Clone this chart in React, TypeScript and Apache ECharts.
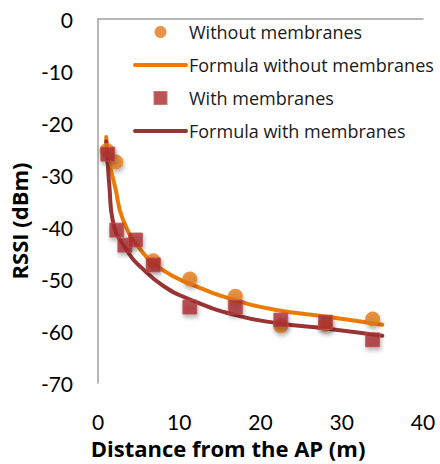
import React, { useEffect, useRef } from "react";
import * as echarts from "echarts";

const withoutX = [1.1, 2.2, 6.8, 11.3, 16.9, 22.5, 28.0, 33.8];
const withoutY = [-25.3, -27.5, -46.5, -50.0, -53.3, -59.0, -58.7, -57.7];

const withX = [1.2, 2.3, 3.3, 4.6, 6.8, 11.3, 16.9, 22.5, 28.0, 33.8];
const withY = [-26.0, -40.6, -43.5, -42.5, -47.3, -55.4, -55.4, -57.9, -58.3, -61.7];

const formulaWithoutX = [1.0, 1.3, 2.1, 3.1, 5.4, 8.0, 11.1, 16.8, 22.1, 28.0, 35.0];
const formulaWithoutY = [-22.7, -27.0, -32.3, -38.7, -44.7, -48.3, -50.8, -54.0, -56.0, -57.2, -58.8];

const formulaWithX = [1.0, 1.2, 1.4, 1.8, 3.75, 5.4, 8.0, 11.1, 16.8, 22.1, 28.0, 35.0];
const formulaWithY = [-23.5, -28.0, -32.3, -38.7, -45.0, -47.9, -51.3, -53.8, -56.9, -58.5, -59.5, -60.9];

const xTicks = { min: 0, max: 40, interval: 10 };
const yTicks = { min: -70, max: 0, interval: 10 };

const names = [
  "Without membranes",
  "Formula without membranes",
  "With membranes",
  "Formula with membranes",
];

const zip = (xs: number[], ys: number[]) => xs.map((x, i) => [x, ys[i]]);

const TICK_FONT = "Lato";
const TEXT_FONT = "Open Sans";
const ORANGE_LINE = "#ee7a06";
const RED_LINE = "#9a3434";
const ORANGE_DOT = "#e3791c";
const RED_SQ = "#a8292f";

const lineIcon = "path://M2,0 L53,0 A2,2 0 0 1 53,4 L2,4 A2,2 0 0 1 2,0 Z";
const squareIcon = "path://M0,0 L10,0 L10,10 L0,10 Z";

export default function App() {
  const ref = useRef<HTMLDivElement>(null);
  useEffect(() => {
    const chart = echarts.init(ref.current!, null, { renderer: "svg" });
    const shadow = {
      shadowBlur: 4,
      shadowColor: "rgba(0,0,0,0.35)",
      shadowOffsetX: 1,
      shadowOffsetY: 3,
    };
    chart.setOption({
      animation: false,
      backgroundColor: "#ffffff",
      textStyle: { fontFamily: TEXT_FONT },
      grid: { left: 96, right: 17, top: 19, bottom: 81, containLabel: false },
      legend: {
        orient: "vertical",
        left: 128,
        top: 16,
        itemWidth: 55,
        itemHeight: 12,
        itemGap: 11,
        symbolKeepAspect: true,
        data: [
          { name: names[0], icon: "circle", itemStyle: { color: ORANGE_DOT, shadowBlur: 0, shadowOffsetX: 0, shadowOffsetY: 0 } },
          { name: names[1], icon: lineIcon, itemStyle: { color: ORANGE_LINE } },
          { name: names[2], icon: squareIcon, itemStyle: { color: RED_SQ, shadowBlur: 0, shadowOffsetX: 0, shadowOffsetY: 0 } },
          { name: names[3], icon: lineIcon, itemStyle: { color: RED_LINE } },
        ],
        textStyle: { fontFamily: TEXT_FONT, fontSize: 18, color: "#1a1a1a", lineHeight: 22, padding: [0, 0, 0, -4] },
      },
      xAxis: {
        type: "value",
        min: xTicks.min,
        max: xTicks.max,
        interval: xTicks.interval,
        name: "Distance from the AP (m)",
        nameLocation: "middle",
        nameGap: 41,
        nameTextStyle: {
          fontFamily: TEXT_FONT,
          fontSize: 22,
          fontWeight: "bold",
          color: "#000",
          padding: [0, 65, 0, 0],
        },
        axisLine: { show: true, lineStyle: { color: "#a0a0a0", width: 1.5 } },
        axisTick: { show: false },
        splitLine: { show: false },
        axisLabel: { fontFamily: TICK_FONT, fontSize: 21, color: "#000", margin: 28 },
      },
      yAxis: {
        type: "value",
        min: yTicks.min,
        max: yTicks.max,
        interval: yTicks.interval,
        name: "RSSI (dBm)",
        nameLocation: "middle",
        nameGap: 49,
        nameTextStyle: {
          fontFamily: TEXT_FONT,
          fontSize: 22,
          fontWeight: "bold",
          color: "#000",
          padding: [0, 40, 0, 0],
        },
        axisLine: { show: true, lineStyle: { color: "#a0a0a0", width: 1.5 } },
        axisTick: { show: false },
        splitLine: { show: false },
        axisLabel: { fontFamily: TICK_FONT, fontSize: 21, color: "#000", margin: 25 },
      },
      series: [
        {
          name: names[1],
          type: "line",
          smooth: true,
          symbol: "none",
          data: zip(formulaWithoutX, formulaWithoutY),
          lineStyle: { color: ORANGE_LINE, width: 4, cap: "round" },
          itemStyle: { color: ORANGE_LINE },
          z: 2,
        },
        {
          name: names[3],
          type: "line",
          smooth: true,
          symbol: "none",
          data: zip(formulaWithX, formulaWithY),
          lineStyle: { color: RED_LINE, width: 4, cap: "round" },
          itemStyle: { color: RED_LINE },
          z: 2,
        },
        {
          name: names[0],
          type: "scatter",
          symbol: "circle",
          symbolSize: 15,
          data: zip(withoutX, withoutY),
          itemStyle: { color: ORANGE_DOT, ...shadow },
          z: 3,
        },
        {
          name: names[2],
          type: "scatter",
          symbol: "rect",
          symbolSize: 14,
          data: zip(withX, withY),
          itemStyle: { color: RED_SQ, borderColor: "#c0504d", borderWidth: 1, ...shadow },
          z: 4,
        },
      ],
    });
    return () => chart.dispose();
  }, []);
  return <div ref={ref} style={{ width: 440, height: 464, position: "absolute", left: 0, top: 0 }} />;
}
